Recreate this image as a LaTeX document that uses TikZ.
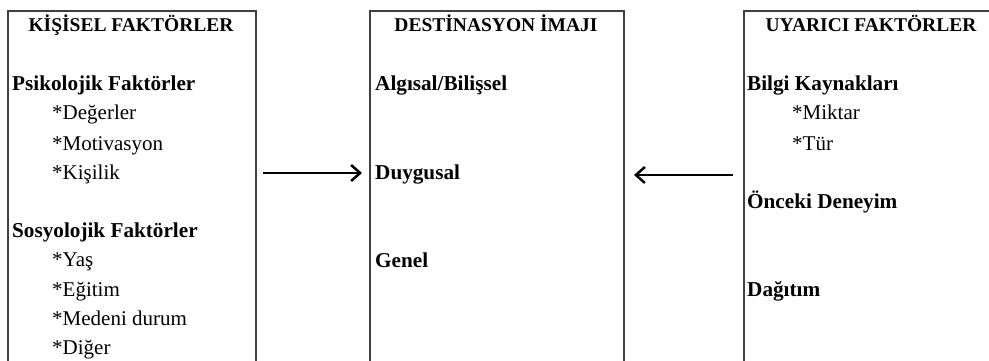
\documentclass[tikz,border=0pt]{standalone}
\usepackage{fontspec}
\setmainfont{Liberation Serif}
\usetikzlibrary{arrows.meta}
\begin{document}
\begin{tikzpicture}[x=1pt,y=-1pt,
  panel/.style={draw=black!75, line width=2pt, rectangle, inner sep=0pt, anchor=north west},
  title/.style={font=\fontsize{19.5}{24}\selectfont\bfseries, inner sep=0pt, anchor=base},
  head/.style={font=\fontsize{21.2}{24}\selectfont\bfseries, inner sep=0pt, anchor=base west},
  item/.style={font=\fontsize{21}{24}\selectfont, inner sep=0pt, anchor=base west},
  flow/.style={-{Straight Barb[length=9pt,width=16pt,line width=2.5pt]}, line width=2.5pt}
]
\useasboundingbox (0,0) rectangle (989,361);
\clip (0,0) rectangle (989,361);

% three panels, open at the bottom (and at the right for the last one)
\node[panel, minimum width=248pt, minimum height=380pt] (kbox) at (7,10) {};
\node[panel, minimum width=254pt, minimum height=380pt] (dbox) at (369,10) {};
\node[panel, minimum width=256pt, minimum height=380pt] (ubox) at (743,10) {};

% left panel: personal factors
\node[title] (kt) at (131,32) {KİŞİSEL FAKTÖRLER};
\node[head] (psi) at (12,91) {Psikolojik Faktörler};
\node[item] (deg) at (52,120) {*Değerler};
\node[item] (mot) at (52,150) {*Motivasyon};
\node[item] (kis) at (52,179) {*Kişilik};
\node[head] (sos) at (12,237) {Sosyolojik Faktörler};
\node[item] (yas) at (52,266) {*Yaş};
\node[item] (egi) at (52,296) {*Eğitim};
\node[item] (med) at (52,325) {*Medeni durum};
\node[item] (dig) at (52,354) {*Diğer};

% middle panel: destination image
\node[title] (dt) at (496,32) {DESTİNASYON İMAJI};
\node[head] (alg) at (375,91) {Algısal/Bilişsel};
\node[head] (duy) at (375,179) {Duygusal};
\node[head] (gen) at (375,267) {Genel};

% right panel: stimulus factors
\node[title] (ut) at (871,32) {UYARICI FAKTÖRLER};
\node[head] (bil) at (747,91) {Bilgi Kaynakları};
\node[item] (mik) at (792,120) {*Miktar};
\node[item] (tur) at (792,150) {*Tür};
\node[head] (onc) at (747,208) {Önceki Deneyim};
\node[head] (dag) at (747,296) {Dağıtım};

% arrows into the destination image
\coordinate (ay) at (0,173);
\coordinate (by) at (0,175);
\draw[flow, shorten <=6pt, shorten >=7pt] (kbox.east |- ay) -- (dbox.west |- ay);
\draw[flow, shorten <=10pt, shorten >=9pt] (ubox.west |- by) -- (dbox.east |- by);
\end{tikzpicture}
\end{document}
